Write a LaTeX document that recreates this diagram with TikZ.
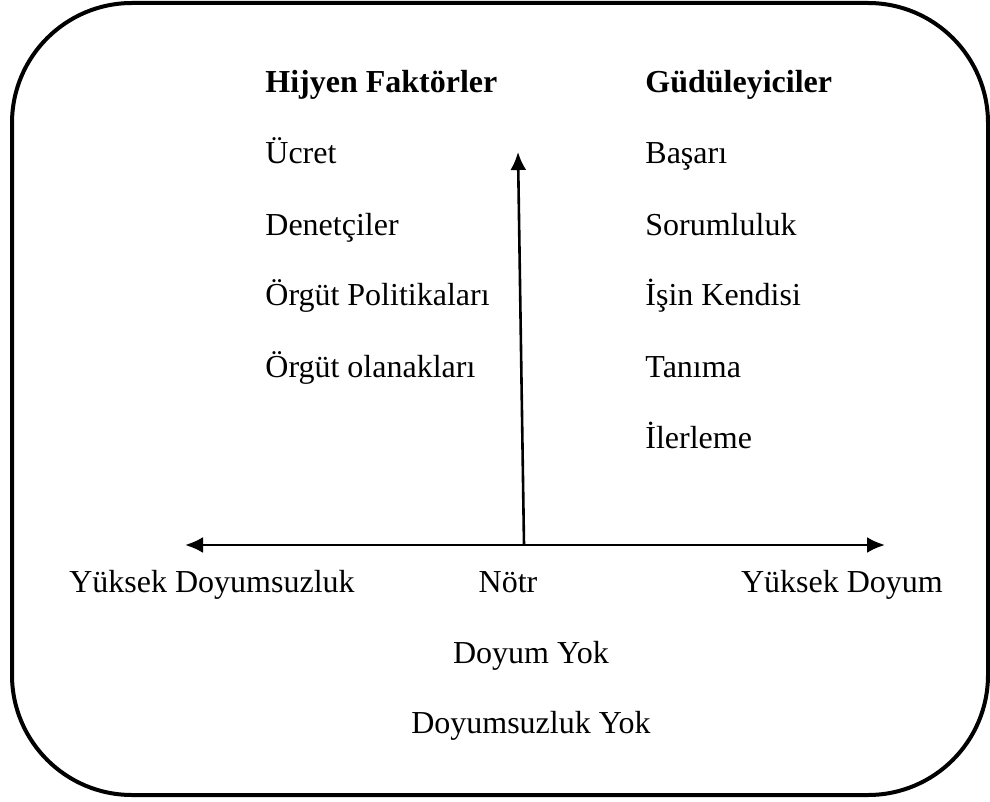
\documentclass[tikz,border=0pt]{standalone}
\usepackage{fontspec}
\setmainfont{Liberation Serif}
\usetikzlibrary{arrows.meta}

\tikzset{
  frame/.style={line width=2pt, rounded corners=60pt},
  axis/.style={line width=1.3pt, {Latex[length=9pt,width=8pt]}-{Latex[length=9pt,width=8pt]}},
  uparrow/.style={line width=1.3pt, -{Latex[length=9pt,width=8pt]}},
  item/.style={anchor=base west, inner sep=0pt, font=\fontsize{16}{19}\selectfont},
  label/.style={anchor=base, inner sep=0pt, font=\fontsize{16}{19}\selectfont},
  heading/.style={item, font=\fontsize{16}{19}\selectfont\bfseries}
}

\begin{document}
\begin{tikzpicture}[x=0.5pt, y=-0.5pt]

  \def\rowgap{71}
  \useasboundingbox (0,0) rectangle (990,802);

  % Outer frame
  \draw[frame] (12,3) rectangle (988,795);

  % Column headings
  \node[heading] (hygiene) at (265,93) {Hijyen Faktörler};
  \node[heading] (motiv) at (645,93) {Güdüleyiciler};

  % Factor lists
  \foreach \txt [count=\i] in {Ücret, Denetçiler, Örgüt Politikaları, Örgüt olanakları}{
    \node[item] (hyg\i) at (265, 93+\rowgap*\i) {\txt};
  }
  \foreach \txt [count=\i] in {Başarı, Sorumluluk, İşin Kendisi, Tanıma, İlerleme}{
    \node[item] (mot\i) at (645, 93+\rowgap*\i) {\txt};
  }

  % Axes
  \coordinate (origin) at (524,545);
  \coordinate (leftend) at (185,545);
  \coordinate (rightend) at (885,545);
  \coordinate (topend) at (518,152);
  \draw[axis] (leftend) -- (rightend);
  \draw[uparrow] (origin) -- (topend);

  % Scale labels
  \node[label] (highdis) at (212,592) {Yüksek Doyumsuzluk};
  \node[label] (neutral) at (508,592) {Nötr};
  \node[label] (highsat) at (842,592) {Yüksek Doyum};
  \node[label] (nosat) at (531,663) {Doyum Yok};
  \node[label] (nodis) at (531,733) {Doyumsuzluk Yok};

\end{tikzpicture}
\end{document}
